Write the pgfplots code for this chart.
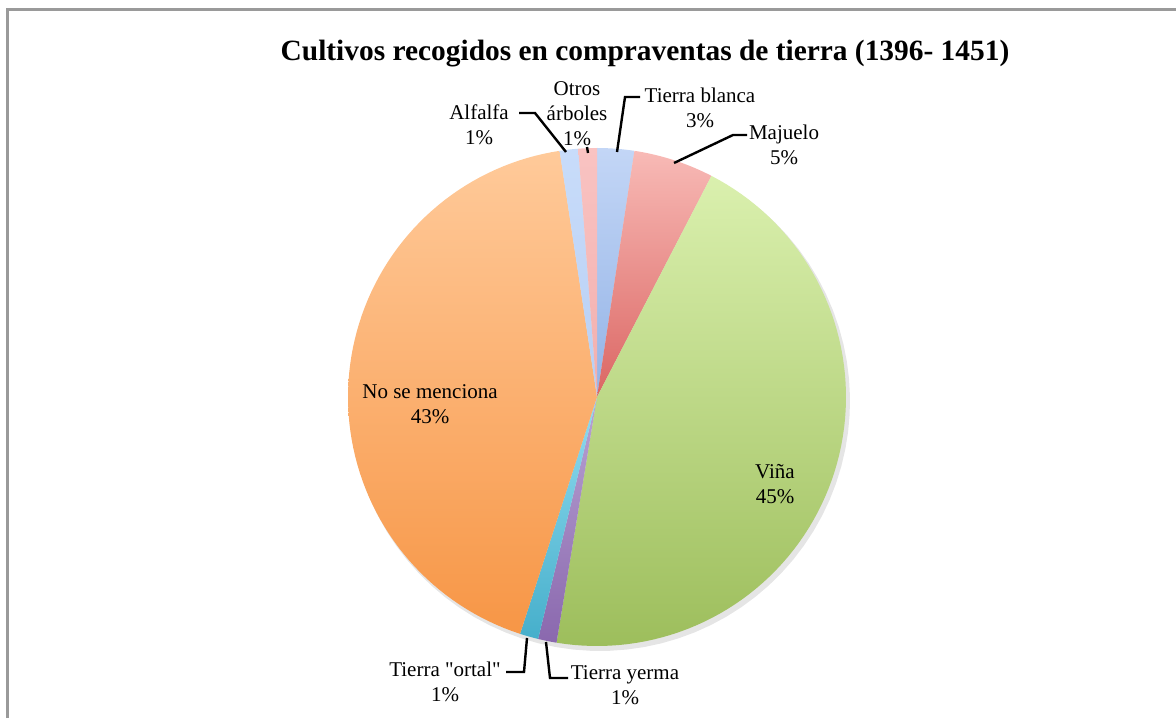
\documentclass[border=0pt]{standalone}
\usepackage{pgfplots}
\pgfplotsset{compat=1.18}
\usepackage{fontspec}
\setmainfont{Liberation Serif}
\newfontfamily\qfont{Liberation Serif}[Ligatures=TeXOff]

\definecolor{frame}{HTML}{9A9A9A}
\definecolor{blancaA}{HTML}{C3D6F6}\definecolor{blancaB}{HTML}{93B3E6}
\definecolor{majA}{HTML}{F8BAB6}\definecolor{majB}{HTML}{DB6663}
\definecolor{vinaA}{HTML}{DAF0AE}\definecolor{vinaB}{HTML}{9DBE5C}
\definecolor{yermaA}{HTML}{B9A3D3}\definecolor{yermaB}{HTML}{8A68AE}
\definecolor{ortalA}{HTML}{92DCF0}\definecolor{ortalB}{HTML}{46AFCB}
\definecolor{noseA}{HTML}{FFCA9A}\definecolor{noseB}{HTML}{F79646}
\definecolor{alfA}{HTML}{C8DCFA}\definecolor{alfB}{HTML}{B8CFF4}
\definecolor{otrA}{HTML}{F9C3C2}\definecolor{otrB}{HTML}{F2AFAE}

\tikzset{lbl/.style={font=\fontsize{10.5}{12.5}\selectfont, align=center}}

% slice limits in percent of the circle, clockwise from 12 o'clock
% blanca 0-2.4, majuelo 2.4-7.6, vina 7.6-52.6, yerma 52.6-53.8,
% ortal 53.8-55.0, no se menciona 55.0-97.6, alfalfa 97.6-98.8, otros 98.8-100

\begin{document}
\begin{tikzpicture}
\begin{axis}[
    scale only axis,
    width=588pt, height=359pt,
    xmin=0, xmax=1176, ymin=0, ymax=718,
    hide axis, clip=false,
    samples=40, variable=\t,
    every axis plot/.append style={draw=none},
]
% shadow
\addplot[fill=black!10, domain=0:100, samples=90] ({600+250*sin(3.6*\t)},{317+250*cos(3.6*\t)}) -- cycle;

\addplot[top color=blancaA, bottom color=blancaB, domain=0:2.4]
  ({597+249*sin(3.6*\t)},{321+249*cos(3.6*\t)}) -- (axis cs:597,321) -- cycle;
\addplot[top color=majA, bottom color=majB, domain=2.4:7.6]
  ({597+249*sin(3.6*\t)},{321+249*cos(3.6*\t)}) -- (axis cs:597,321) -- cycle;
\addplot[top color=vinaA, bottom color=vinaB, domain=7.6:52.6, samples=80]
  ({597+249*sin(3.6*\t)},{321+249*cos(3.6*\t)}) -- (axis cs:597,321) -- cycle;
\addplot[top color=yermaA, bottom color=yermaB, domain=52.6:53.8]
  ({597+249*sin(3.6*\t)},{321+249*cos(3.6*\t)}) -- (axis cs:597,321) -- cycle;
\addplot[top color=ortalA, bottom color=ortalB, domain=53.8:55.0]
  ({597+249*sin(3.6*\t)},{321+249*cos(3.6*\t)}) -- (axis cs:597,321) -- cycle;
\addplot[top color=noseA, bottom color=noseB, domain=55.0:97.6, samples=80]
  ({597+249*sin(3.6*\t)},{321+249*cos(3.6*\t)}) -- (axis cs:597,321) -- cycle;
\addplot[top color=alfA, bottom color=alfB, domain=97.6:98.8]
  ({597+249*sin(3.6*\t)},{321+249*cos(3.6*\t)}) -- (axis cs:597,321) -- cycle;
\addplot[top color=otrA, bottom color=otrB, domain=98.8:100]
  ({597+249*sin(3.6*\t)},{321+249*cos(3.6*\t)}) -- (axis cs:597,321) -- cycle;

% leader lines
\addplot[draw=black, line width=1.2pt] coordinates {(519,605) (535,605) (566,566)};
\addplot[draw=black, line width=1.2pt] coordinates {(587,571) (588,565)};
\addplot[draw=black, line width=1.2pt] coordinates {(640,621) (625,621) (617,566)};
\addplot[draw=black, line width=1.2pt] coordinates {(747,583) (733,583) (674,555)};
\addplot[draw=black, line width=1.2pt] coordinates {(527,80) (524,46) (506,46)};
\addplot[draw=black, line width=1.2pt] coordinates {(546,76) (550,40) (568,40)};

% frame
\addplot[draw=frame, line width=1.5pt] coordinates {(7.5,0) (7.5,708.5) (1176,708.5)};

\node[font=\bfseries\fontsize{14.7}{17}\selectfont] at (axis cs:645,664) {Cultivos recogidos en compraventas de tierra (1396- 1451)};
\node[lbl] at (axis cs:479,593) {Alfalfa\\1\%};
\node[lbl] at (axis cs:577,604) {Otros\\árboles\\1\%};
\node[lbl] at (axis cs:700,610) {Tierra blanca\\3\%};
\node[lbl] at (axis cs:784,573) {Majuelo\\5\%};
\node[lbl] at (axis cs:775,234) {Viña\\45\%};
\node[lbl] at (axis cs:430,314) {No se menciona\\43\%};
\node[lbl] at (axis cs:445,36) {Tierra {\qfont"}ortal{\qfont"}\\1\%};
\node[lbl] at (axis cs:625,33) {Tierra yerma\\1\%};
\end{axis}
\pgfresetboundingbox
\path[use as bounding box] (current axis.south west) rectangle (current axis.north east);
\end{tikzpicture}
\end{document}
